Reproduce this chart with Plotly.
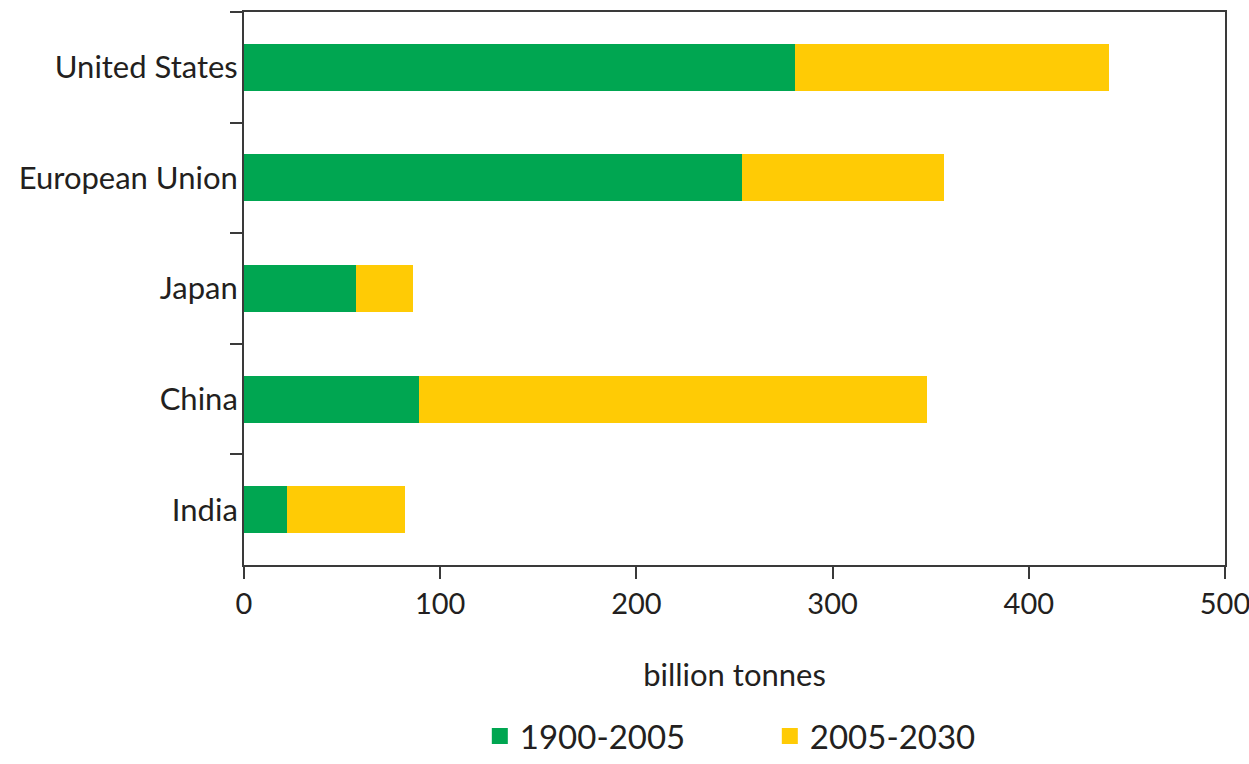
import plotly.graph_objects as go

regions = ["United States", "European Union", "Japan", "China", "India"]
hist_1900_2005 = [281, 254, 57, 89, 22]
proj_2005_2030 = [160, 103, 29, 259, 60]
series_names = ["1900-2005", "2005-2030"]
x_ticks = [0, 100, 200, 300, 400, 500]

GREEN = "#00A651"
YELLOW = "#FFCB05"
TEXT = "#231F20"
AXIS = "#3a3a3a"
FONT = "Lato, 'Open Sans', sans-serif"

fig = go.Figure()
fig.add_trace(go.Bar(y=regions, x=hist_1900_2005, orientation="h", name=series_names[0],
                     marker=dict(color=GREEN, line=dict(width=0)), width=0.425, showlegend=False))
fig.add_trace(go.Bar(y=regions, x=proj_2005_2030, orientation="h", name=series_names[1],
                     marker=dict(color=YELLOW, line=dict(width=0)), width=0.425, showlegend=False))
# legend entries
fig.add_trace(go.Scatter(x=[None], y=[None], mode="markers", name=series_names[0],
                         marker=dict(symbol="square", size=16, color=GREEN)))
fig.add_trace(go.Scatter(x=[None], y=[None], mode="markers", name=series_names[1],
                         marker=dict(symbol="square", size=16, color=YELLOW)))

fig.update_layout(
    barmode="stack",
    width=1249, height=764,
    margin=dict(l=244, r=24, t=12, b=199),
    paper_bgcolor="white", plot_bgcolor="white",
    font=dict(family=FONT, size=31, color=TEXT),
    showlegend=True,
    legend=dict(orientation="h", x=0.536, xanchor="center", yref="container", y=0,
                yanchor="bottom",
                font=dict(size=33, color=TEXT), itemsizing="trace", tracegroupgap=0,
                traceorder="normal", itemwidth=30, entrywidth=245),
    xaxis=dict(range=[0, 500], tickvals=x_ticks, showgrid=False,
               zeroline=False, showline=True, linecolor=AXIS, linewidth=2, mirror=True,
               ticks="outside", ticklen=12, tickwidth=2, tickcolor=AXIS, automargin=False,
               ticklabeloverflow="allow", tickfont=dict(size=29),
               title=dict(text="billion tonnes", standoff=46, font=dict(size=31))),
    yaxis=dict(categoryorder="array", categoryarray=regions, autorange="reversed",
               showgrid=False, zeroline=False, showline=True, linecolor=AXIS, linewidth=2,
               mirror=True, ticks="outside", ticklen=12, tickwidth=2, tickcolor=AXIS,
               tickson="boundaries", ticklabelstandoff=-2, automargin=False),
)

fig.write_html("out.html")
